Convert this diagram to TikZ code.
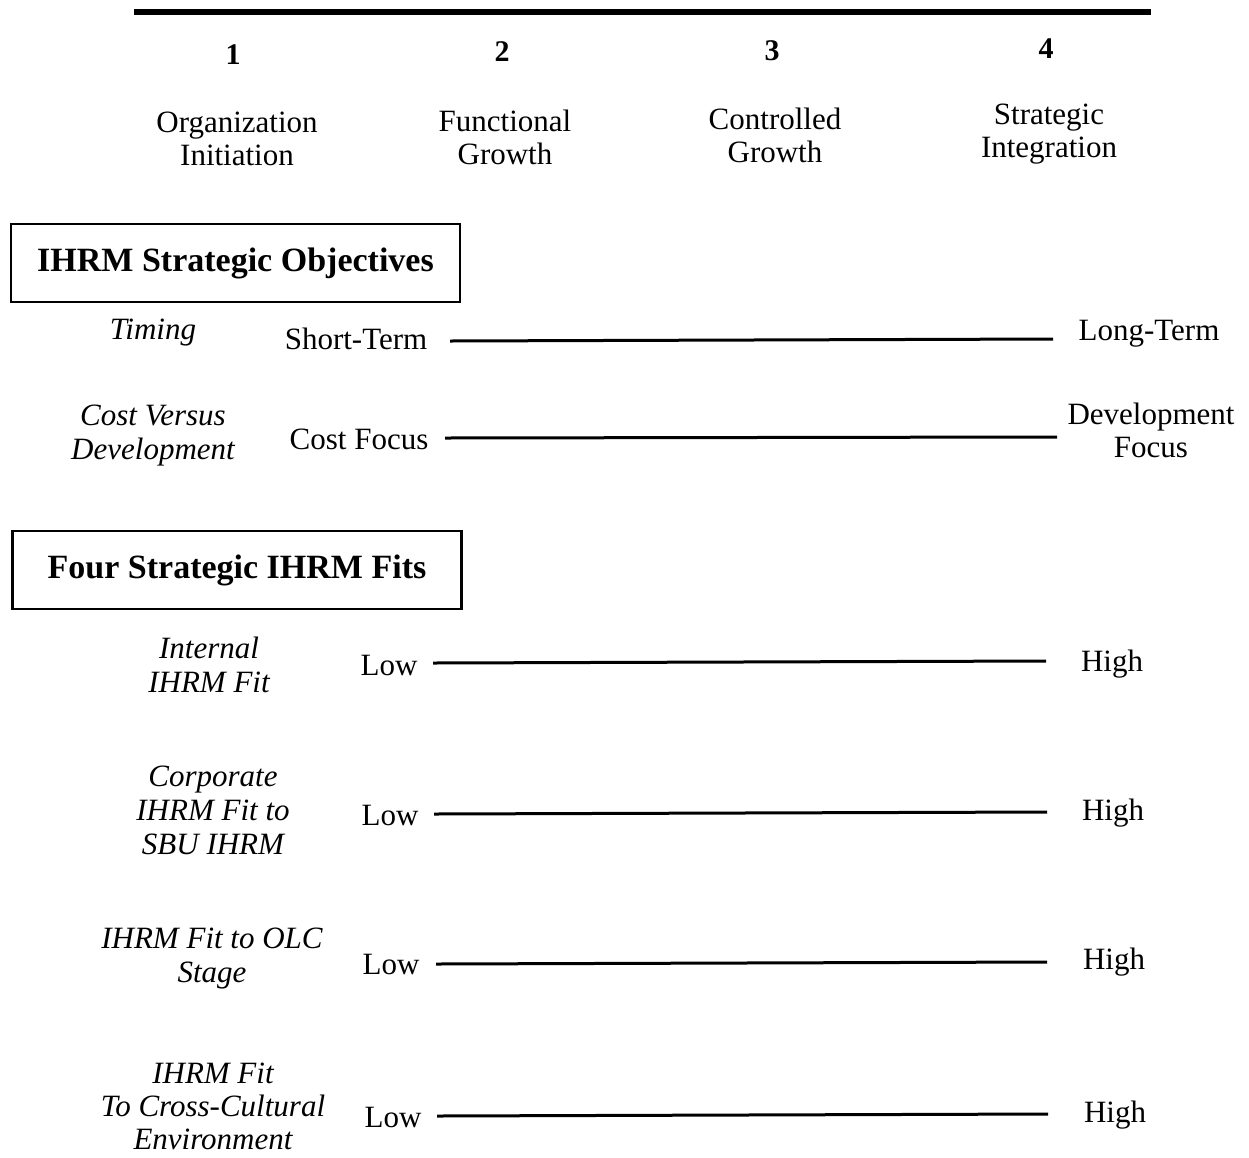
\documentclass[tikz,border=0pt]{standalone}
\usepackage{fontspec}
\setmainfont{Liberation Serif}
\begin{document}
\begin{tikzpicture}[x=1pt,y=-1pt,
  lbl/.style={inner sep=0pt, align=center, font=\fontsize{31}{33}\selectfont},
  ital/.style={lbl, font=\fontsize{31}{34}\selectfont\itshape},
  num/.style={inner sep=0pt, font=\fontsize{30}{33}\selectfont\bfseries},
  hdr/.style={draw, line width=2.5pt, minimum width=449pt, minimum height=78pt, inner sep=0pt, font=\fontsize{34}{36}\selectfont\bfseries},
  scale line/.style={line width=3pt},
  top line/.style={line width=5.5pt}]
\useasboundingbox (0,0) rectangle (1249,1157);
% top axis
\coordinate (t1) at (134,12);
\coordinate (t2) at (1151,12);
\draw[top line] (t1) -- (t2);
\node[num] (n1) at (233,55) {1};
\node[num] (n2) at (502,52) {2};
\node[num] (n3) at (772,51) {3};
\node[num] (n4) at (1046,49) {4};
\node[lbl] (c1) at (237,139) {Organization\\Initiation};
\node[lbl] (c2) at (505,137) {Functional\\Growth};
\node[lbl] (c3) at (775,135) {Controlled\\Growth};
\node[lbl] (c4) at (1049,134) {Strategic\\Integration};
% section 1
\node[hdr] (h1) at (235.5,263) {IHRM Strategic Objectives};
\node[ital] (timing) at (153,333) {Timing};
\node[lbl] (st) at (356,339) {Short-Term};
\node[lbl] (lt) at (1149,334) {Long-Term};
\coordinate (a1) at (450,341);
\coordinate (a2) at (1053,339);
\draw[scale line] (a1) -- (a2);
\node[ital] (cvd) at (153,436) {Cost Versus\\Development};
\node[lbl] (cf) at (359,439) {Cost Focus};
\node[lbl] (df) at (1151,430) {Development\\Focus};
\coordinate (b1) at (445,438);
\coordinate (b2) at (1057,437);
\draw[scale line] (b1) -- (b2);
% section 2
\node[hdr] (h2) at (237,570) {Four Strategic IHRM Fits};
\node[ital] (f1) at (209,665) {Internal\\IHRM Fit};
\node[lbl] (l1) at (389,665) {Low};
\node[lbl] (g1) at (1112,664) {High};
\coordinate (p1) at (433,663);
\coordinate (q1) at (1046,661);
\draw[scale line] (p1) -- (q1);
\node[ital] (f2) at (213,810) {Corporate\\IHRM Fit to\\SBU IHRM};
\node[lbl] (l2) at (390,815) {Low};
\node[lbl] (g2) at (1113,813) {High};
\coordinate (p2) at (434,814);
\coordinate (q2) at (1047,812);
\draw[scale line] (p2) -- (q2);
\node[ital] (f3) at (212,959) {IHRM Fit to OLC\\Stage};
\node[lbl] (l3) at (391,964) {Low};
\node[lbl] (g3) at (1114,962) {High};
\coordinate (p3) at (436,964);
\coordinate (q3) at (1047,962);
\draw[scale line] (p3) -- (q3);
\node[ital, font=\fontsize{31}{33}\selectfont\itshape] (f4) at (213,1106) {IHRM Fit\\To Cross-Cultural\\Environment};
\node[lbl] (l4) at (393,1117) {Low};
\node[lbl] (g4) at (1115,1115) {High};
\coordinate (p4) at (437,1116);
\coordinate (q4) at (1048,1114);
\draw[scale line] (p4) -- (q4);
\end{tikzpicture}
\end{document}
